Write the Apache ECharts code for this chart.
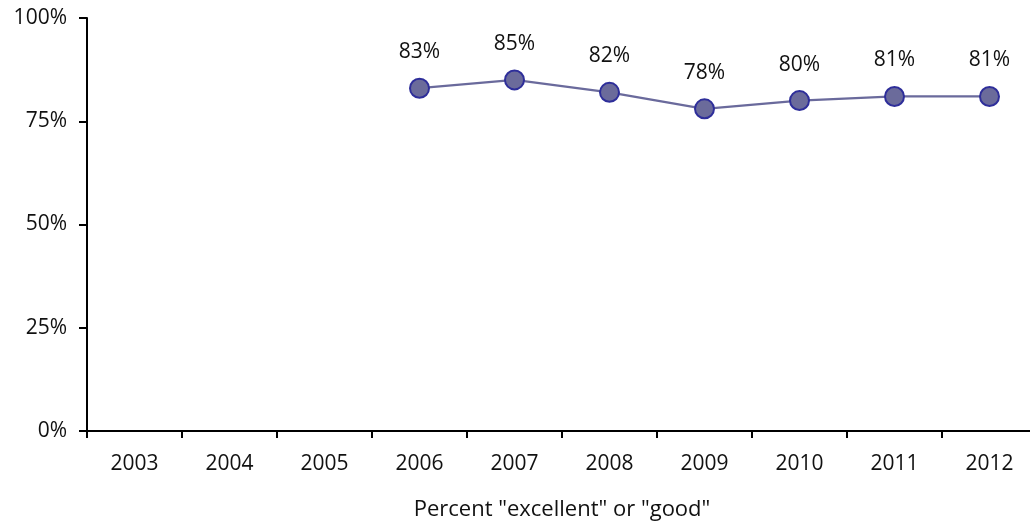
<!DOCTYPE html>
<html>
<head>
<meta charset="utf-8">
<script src="https://cdn.jsdelivr.net/npm/echarts@6/dist/echarts.min.js"></script>
<style>
  html, body { margin: 0; padding: 0; background: #fff; }
  #chart { width: 1030px; height: 522px; }
</style>
</head>
<body>
<div id="chart"></div>
<script>
// Survey years along the bottom axis
const years = ['2003', '2004', '2005', '2006', '2007', '2008', '2009', '2010', '2011', '2012'];
// Share rating "excellent" or "good" (no survey before 2006)
const percentGood = [null, null, null, 83, 85, 82, 78, 80, 81, 81];
// Value axis ticks
const yTicks = [0, 25, 50, 75, 100];

const FONT = '"Open Sans", sans-serif';
const chart = echarts.init(document.getElementById('chart'));

chart.setOption({
  animation: false,
  backgroundColor: '#ffffff',
  grid: { left: 87, top: 18, width: 950, height: 413, containLabel: false, outerBoundsMode: 'none' },
  xAxis: {
    type: 'category',
    data: years,
    boundaryGap: true,
    name: 'Percent "excellent" or "good"',
    nameLocation: 'middle',
    nameGap: 68,
    nameTextStyle: { color: '#111', fontSize: 22, fontFamily: FONT },
    axisLine: { lineStyle: { color: '#000', width: 2 } },
    axisTick: { show: true, length: 7, lineStyle: { color: '#000', width: 2 } },
    axisLabel: { color: '#111', fontSize: 21, fontFamily: FONT, margin: 23 },
    splitLine: { show: false }
  },
  yAxis: {
    type: 'value',
    min: yTicks[0],
    max: yTicks[yTicks.length - 1],
    interval: 25,
    axisLine: { show: true, lineStyle: { color: '#000', width: 2 } },
    axisTick: { show: true, length: 8, lineStyle: { color: '#000', width: 2 } },
    axisLabel: { color: '#111', fontSize: 21, fontFamily: FONT, margin: 20, formatter: '{value}%' },
    splitLine: { show: false }
  },
  series: [{
    type: 'line',
    data: percentGood,
    connectNulls: false,
    symbol: 'circle',
    symbolSize: 19,
    lineStyle: { color: '#6a6a9c', width: 2.2 },
    itemStyle: { color: '#6b6b9b', borderColor: '#2e2e9a', borderWidth: 2 },
    label: {
      show: true,
      position: 'top',
      distance: 15,
      color: '#111',
      fontSize: 21,
      fontFamily: FONT,
      formatter: p => p.value + '%'
    },
    emphasis: { disabled: true }
  }]
});
</script>
</body>
</html>
